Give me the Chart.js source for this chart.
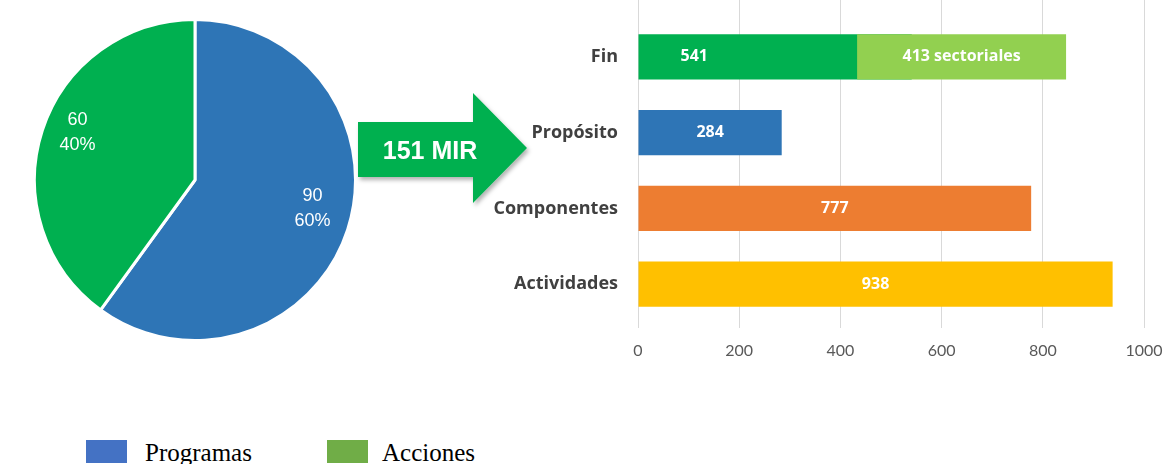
<!DOCTYPE html>
<html>
<head>
<meta charset="utf-8">
<script src="https://cdn.jsdelivr.net/npm/chart.js@4"></script>
<style>
  body { margin: 0; background: #fff; }
  #page { position: relative; width: 1172px; height: 464px; overflow: hidden; background: #fff; }
  #pieBox { position: absolute; left: 0; top: 0; }
  #barBox { position: absolute; left: 460px; top: 0; }
  #arrow { position: absolute; left: 350px; top: 85px; }
  .legend { position: absolute; top: 440px; font-family: "Liberation Serif", serif; font-size: 25px; color: #000; }
  .legend span.box { position: absolute; top: 0; width: 41px; height: 23px; }
  .legend span.txt { position: absolute; top: -1px; white-space: nowrap; }
</style>
</head>
<body>
<div id="page">
  <div id="pieBox"><canvas id="pie" width="390" height="360"></canvas></div>
  <svg id="arrow" width="190" height="130" viewBox="0 0 190 130">
    <defs>
      <filter id="sh" x="-10%" y="-10%" width="130%" height="130%">
        <feDropShadow dx="2" dy="3" stdDeviation="2" flood-color="#000" flood-opacity="0.3"/>
      </filter>
    </defs>
    <polygon points="8,37 123,37 123,8 177,63 123,118 123,92 8,92" fill="#00B050" filter="url(#sh)"/>
    <text x="80" y="74" text-anchor="middle" font-family="Liberation Sans, Arial, sans-serif"
          font-weight="bold" font-size="25" fill="#fff">151 MIR</text>
  </svg>
  <div id="barBox"><canvas id="bars" width="712" height="380"></canvas></div>
  <div class="legend" style="left:0">
    <span class="box" style="left:86px;background:#4472C4"></span>
    <span class="txt" style="left:145px">Programas</span>
    <span class="box" style="left:327px;background:#70AD47"></span>
    <span class="txt" style="left:382px">Acciones</span>
  </div>
</div>

<script>
// pie data
const pieLabels = ["Programas", "Acciones"];
const pieValues = [90, 60];
const pieColors = ["#2E75B6", "#00B050"];

// bar data
const barCategories = ["Fin", "Propósito", "Componentes", "Actividades"];
const barValues = [541, 284, 777, 938];
const barColors = ["#00B050", "#2E75B6", "#ED7D31", "#FFC000"];
// sectoriales overlay on the Fin bar
const sectorialStart = 433;
const sectorialValue = 413;
const xTicks = [0, 200, 400, 600, 800, 1000];

// value + percent inside the pie slices
const pieLabelPlugin = {
    id: "pieLabels",
    afterDatasetsDraw: function (chart) {
        const ctx = chart.ctx;
        const data = chart.data.datasets[0].data;
        const total = data.reduce((a, b) => a + b, 0);
        chart.getDatasetMeta(0).data.forEach(function (arc, i) {
            const mid = (arc.startAngle + arc.endAngle) / 2;
            const r = arc.outerRadius * 0.77;
            const x = arc.x + Math.cos(mid) * r;
            const y = arc.y + Math.sin(mid) * r;
            ctx.save();
            ctx.fillStyle = "#fff";
            ctx.font = "18px 'Liberation Sans', Arial, sans-serif";
            ctx.textAlign = "center";
            ctx.textBaseline = "middle";
            ctx.fillText(String(data[i]), x, y - 22);
            ctx.fillText(Math.round(data[i] / total * 100) + "%", x, y + 3);
            ctx.restore();
        });
    }
};

new Chart(document.getElementById("pie").getContext("2d"), {
    type: "pie",
    data: {
        labels: pieLabels,
        datasets: [{
            data: pieValues,
            backgroundColor: pieColors,
            borderColor: "#fff",
            borderWidth: 3
        }]
    },
    options: {
        responsive: false,
        animation: false,
        layout: { padding: { left: 33, right: 33, top: 18, bottom: 18 } },
        plugins: { legend: { display: false }, tooltip: { enabled: false } }
    },
    plugins: [pieLabelPlugin]
});

// white labels inside the bars
const barLabelPlugin = {
    id: "barLabels",
    afterDatasetsDraw: function (chart) {
        const ctx = chart.ctx;
        ctx.save();
        ctx.fillStyle = "#fff";
        ctx.font = "bold 16px 'Open Sans', sans-serif";
        ctx.textBaseline = "middle";
        chart.getDatasetMeta(0).data.forEach(function (bar, i) {
            if (i === 0) {
                // Fin label sits at the left of the bar
                ctx.textAlign = "left";
                ctx.fillText(String(barValues[i]), bar.base + 42, bar.y);
            } else {
                ctx.textAlign = "center";
                ctx.fillText(String(barValues[i]), (bar.base + bar.x) / 2, bar.y);
            }
        });
        const s = chart.getDatasetMeta(1).data[0];
        ctx.textAlign = "center";
        ctx.fillText(sectorialValue + " sectoriales", (s.base + s.x) / 2, s.y);
        ctx.restore();
    }
};

const gridColor = "#D9D9D9";

new Chart(document.getElementById("bars").getContext("2d"), {
    type: "bar",
    data: {
        labels: barCategories,
        datasets: [
            {
                data: barValues,
                backgroundColor: barColors,
                grouped: false,
                order: 1,
                barPercentage: 0.6,
                categoryPercentage: 1
            },
            {
                data: [[sectorialStart, sectorialStart + sectorialValue], null, null, null],
                backgroundColor: "#92D050",
                grouped: false,
                order: 0,
                barPercentage: 0.6,
                categoryPercentage: 1
            }
        ]
    },
    options: {
        indexAxis: "y",
        responsive: false,
        animation: false,
        layout: { padding: { left: 0, right: 28, top: 0, bottom: 6 } },
        scales: {
            x: {
                type: "linear",
                position: "bottom",
                min: 0,
                max: 1000,
                afterBuildTicks: function (scale) {
                    scale.ticks = xTicks.map(v => ({ value: v }));
                },
                grid: { color: gridColor, tickLength: 6 },
                border: { display: false },
                ticks: {
                    padding: 3,
                    color: "#595959",
                    callback: function (value) {
                        return value;
                    },
                    font: { family: "Lato, 'Open Sans', sans-serif", size: 16, lineHeight: 2.5 }
                }
            },
            xTop: {
                type: "linear",
                position: "top",
                min: 0,
                max: 1000,
                afterBuildTicks: function (scale) {
                    scale.ticks = xTicks.map(v => ({ value: v }));
                },
                grid: { color: gridColor, tickLength: 19, drawOnChartArea: false },
                border: { display: false },
                ticks: { display: false }
            },
            y: {
                // hidden tick marks still give the 20px gap between labels and bars
                grid: { display: false, drawTicks: true, tickLength: 20 },
                border: { display: false },
                afterFit: function (scale) {
                    scale.width = 178;
                },
                ticks: {
                    padding: 0,
                    color: "#404040",
                    font: { family: "'Open Sans', sans-serif", size: 18, weight: "bold" }
                }
            }
        },
        plugins: { legend: { display: false }, tooltip: { enabled: false } }
    },
    plugins: [barLabelPlugin]
});
</script>
</body>
</html>
